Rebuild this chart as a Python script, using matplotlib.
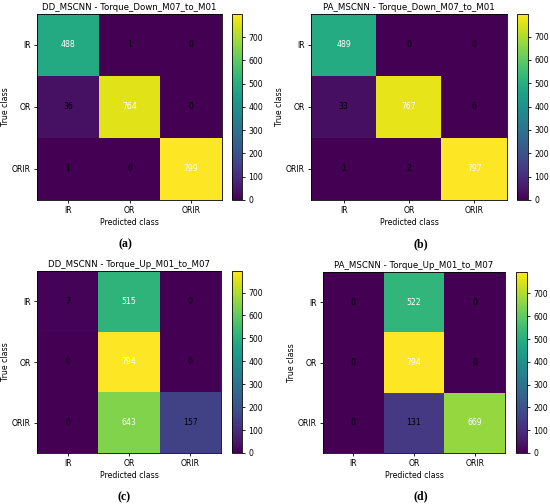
import matplotlib
matplotlib.use("Agg")
import matplotlib.pyplot as plt
import numpy as np

classes = ["IR", "OR", "ORIR"]
titles = ["DD_MSCNN - Torque_Down_M07_to_M01",
          "PA_MSCNN - Torque_Down_M07_to_M01",
          "DD_MSCNN - Torque_Up_M01_to_M07",
          "PA_MSCNN - Torque_Up_M01_to_M07"]
cm_a = [[488, 1, 0], [36, 764, 0], [1, 0, 799]]
cm_b = [[489, 0, 0], [33, 767, 0], [1, 2, 797]]
cm_c = [[7, 515, 0], [0, 794, 0], [0, 643, 157]]
cm_d = [[0, 522, 0], [0, 794, 0], [0, 131, 669]]
captions = ["(a)", "(b)", "(c)", "(d)"]
cbar_ticks = [0, 100, 200, 300, 400, 500, 600, 700]

W, H = 550, 504
fig = plt.figure(figsize=(W / 100, H / 100), dpi=100)

def ax_px(x0, y0, x1, y1):
    return fig.add_axes([x0 / W, 1 - y1 / H, (x1 - x0) / W, (y1 - y0) / H])

# (axes box, colorbar box, caption position) in pixels
layout = [
    ((37, 14, 222, 200), (232, 14, 242, 200), (125, 244)),
    ((311, 14, 507, 200), (517, 14, 528, 200), (421, 244)),
    ((37, 271, 221, 453), (232, 271, 242, 453), (124, 497)),
    ((323, 272, 505, 453), (516, 272, 527, 453), (421, 496)),
]
mats = [cm_a, cm_b, cm_c, cm_d]
fs = 5.6

for mat, title, cap, (abox, cbox, cpos) in zip(mats, titles, captions, layout):
    m = np.array(mat)
    ax = ax_px(*abox)
    im = ax.imshow(m, cmap="viridis", aspect="auto")
    thresh = (m.max() + m.min()) / 2.0
    for i in range(3):
        for j in range(3):
            ax.text(j, i, str(m[i, j]), ha="center", va="center", fontsize=fs,
                    color="white" if m[i, j] > thresh else "black")
    ax.set_xticks(range(3))
    ax.set_yticks(range(3))
    ax.set_xticklabels(classes, fontsize=fs)
    ax.set_yticklabels(classes, fontsize=fs)
    ax.tick_params(length=2.5, width=0.6, pad=2)
    ax.set_xlabel("Predicted class", fontsize=fs, labelpad=2)
    ax.set_ylabel("True class", fontsize=fs, labelpad=1)
    ax.set_title(title, fontsize=6.2, pad=3)
    for s in ax.spines.values():
        s.set_linewidth(0.6)
    cax = ax_px(*cbox)
    cb = fig.colorbar(im, cax=cax, ticks=cbar_ticks)
    cb.ax.tick_params(labelsize=fs, length=2.5, width=0.6, pad=2)
    cb.outline.set_linewidth(0.6)
    fig.text(cpos[0] / W, 1 - cpos[1] / H, cap, ha="center", va="center",
             fontsize=8.5, family="Liberation Serif", fontweight="bold")

fig.savefig("out.png", dpi=100)
